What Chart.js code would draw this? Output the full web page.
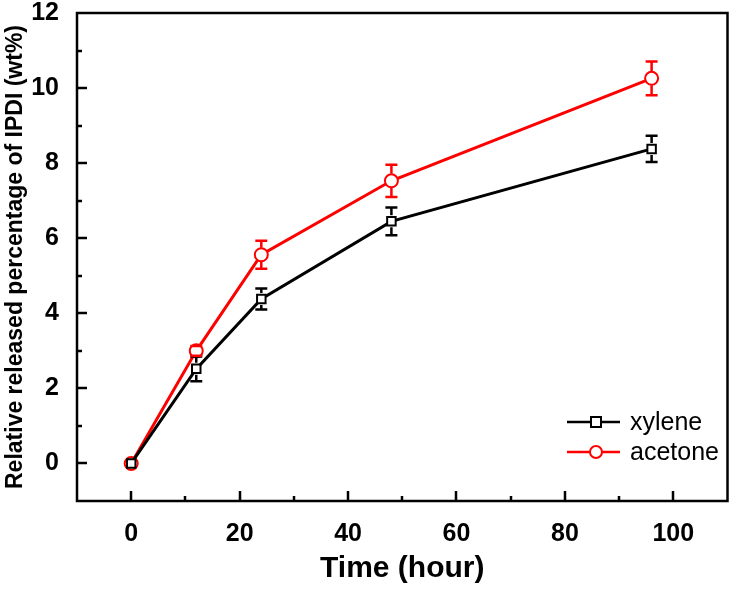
<!DOCTYPE html>
<html>
<head>
<meta charset="utf-8">
<script src="https://cdn.jsdelivr.net/npm/chart.js@4.4.0/dist/chart.umd.min.js"></script>
<style>
html,body{margin:0;padding:0;background:#fff;}
#wrap{width:736px;height:589px;position:relative;}
</style>
</head>
<body>
<div id="wrap"><canvas id="c" width="736" height="589"></canvas></div>
<script>
const timeHours = [0, 12, 24, 48, 96];
const xyleneValues = [0, 2.52, 4.38, 6.45, 8.38];
const xyleneErrors = [0, 0.33, 0.28, 0.37, 0.35];
const acetoneValues = [0, 3.0, 5.56, 7.53, 10.26];
const acetoneErrors = [0, 0.13, 0.37, 0.43, 0.45];
const seriesNames = ['xylene', 'acetone'];
const xTickLabels = [0, 20, 40, 60, 80, 100];
const yTickLabels = [0, 2, 4, 6, 8, 10, 12];

const FONT = '"Liberation Sans", Arial, sans-serif';

function pts(vals) { return timeHours.map((t, i) => ({x: t, y: vals[i]})); }

const errorBarPlugin = {
  id: 'errbars',
  afterDatasetsDraw(chart) {
    const ctx = chart.ctx, xs = chart.scales.x, ys = chart.scales.y;
    const errs = [xyleneErrors, acetoneErrors];
    const vals = [xyleneValues, acetoneValues];
    chart.data.datasets.forEach((ds, di) => {
      ctx.save();
      ctx.strokeStyle = ds.borderColor;
      ctx.lineWidth = 2.5;
      timeHours.forEach((t, i) => {
        const e = errs[di][i];
        if (!e) return;
        const px = xs.getPixelForValue(t);
        const top = ys.getPixelForValue(vals[di][i] + e);
        const bot = ys.getPixelForValue(vals[di][i] - e);
        const r = di === 0 ? 6 : 7;
        const cy = ys.getPixelForValue(vals[di][i]);
        ctx.beginPath();
        if (top < cy - r) { ctx.moveTo(px, top); ctx.lineTo(px, cy - r); }
        if (bot > cy + r) { ctx.moveTo(px, cy + r); ctx.lineTo(px, bot); }
        ctx.moveTo(px - 6, top); ctx.lineTo(px + 6, top);
        ctx.moveTo(px - 6, bot); ctx.lineTo(px + 6, bot);
        ctx.stroke();
      });
      ctx.restore();
    });
  }
};

const framePlugin = {
  id: 'frame',
  afterDraw(chart) {
    const ctx = chart.ctx, a = chart.chartArea, xs = chart.scales.x, ys = chart.scales.y;
    ctx.save();
    ctx.strokeStyle = '#000';
    ctx.lineWidth = 2.5;
    ctx.strokeRect(a.left, a.top, a.right - a.left, a.bottom - a.top);
    ctx.lineWidth = 2.5;
    ctx.beginPath();
    xs.ticks.forEach(t => {
      const v = t.value;
      if (v <= xs.min || v >= xs.max) return;
      const len = (v % 20 === 0) ? 10 : 5;
      const px = Math.round(xs.getPixelForValue(v));
      ctx.moveTo(px, a.bottom); ctx.lineTo(px, a.bottom - len);
    });
    ys.ticks.forEach(t => {
      const v = t.value;
      if (v <= ys.min || v >= ys.max) return;
      const len = (v % 2 === 0) ? 10 : 5;
      const py = Math.round(ys.getPixelForValue(v));
      ctx.moveTo(a.left, py); ctx.lineTo(a.left + len, py);
    });
    ctx.stroke();
    // legend
    const items = [
      {name: seriesNames[0], color: '#000', style: 'rect'},
      {name: seriesNames[1], color: '#ff0000', style: 'circle'}
    ];
    items.forEach((it, i) => {
      const y = 422 + i * 30;
      ctx.strokeStyle = it.color;
      ctx.lineWidth = 2.5;
      ctx.beginPath(); ctx.moveTo(567, y); ctx.lineTo(620, y); ctx.stroke();
      ctx.fillStyle = '#fff';
      ctx.lineWidth = 2;
      ctx.beginPath();
      if (it.style === 'rect') ctx.rect(596 - 5, y - 5, 10, 10);
      else ctx.arc(596, y, 6, 0, Math.PI * 2);
      ctx.fill(); ctx.stroke();
      ctx.fillStyle = '#000';
      ctx.font = '25px ' + FONT;
      ctx.textBaseline = 'middle';
      ctx.textAlign = 'left';
      ctx.fillText(it.name, 630, y + 1);
    });
    ctx.restore();
  }
};

new Chart(document.getElementById('c'), {
  type: 'line',
  data: {
    datasets: [
      {label: seriesNames[0], data: pts(xyleneValues), borderColor: '#000', backgroundColor: '#fff',
       borderWidth: 3, pointStyle: 'rect', pointRadius: 6, pointBorderWidth: 2, tension: 0},
      {label: seriesNames[1], data: pts(acetoneValues), borderColor: '#ff0000', backgroundColor: '#fff',
       borderWidth: 3, pointStyle: 'circle', pointRadius: 6.5, pointBorderWidth: 2, tension: 0}
    ]
  },
  options: {
    responsive: false,
    animation: false,
    events: [],
    layout: {padding: {top: 13, right: 6, left: 0, bottom: 0}},
    plugins: {legend: {display: false}, tooltip: {enabled: false}},
    scales: {
      x: {
        type: 'linear', min: -10, max: 110,
        grid: {display: false},
        border: {display: false},
        ticks: {
          stepSize: 10, padding: 10, color: '#000',
          font: {family: FONT, size: 25, weight: 'bold'},
          autoSkip: false, maxRotation: 0,
          callback: v => xTickLabels.includes(v) ? String(v) : ''
        },
        title: {display: true, text: 'Time (hour)', color: '#000',
                font: {family: FONT, size: 30, weight: 'bold'}, padding: {top: 10, bottom: 2}},
        afterFit(s) { s.height = 88; s.paddingLeft = 0; s.paddingRight = 0; }
      },
      y: {
        type: 'linear', min: -1, max: 12,
        grid: {display: false},
        border: {display: false},
        ticks: {
          stepSize: 1, padding: 10, color: '#000',
          font: {family: FONT, size: 25, weight: 'bold'},
          autoSkip: false,
          callback: v => yTickLabels.includes(v) ? String(v) : ''
        },
        title: {display: true, text: 'Relative released percentage of IPDI (wt%)', color: '#000',
                font: {family: FONT, size: 23, weight: 'bold'}, padding: {top: 2, bottom: 0}},
        afterFit(s) { s.width = 77; s.paddingTop = 0; s.paddingBottom = 0; }
      }
    }
  },
  plugins: [errorBarPlugin, framePlugin]
});
</script>
</body>
</html>
